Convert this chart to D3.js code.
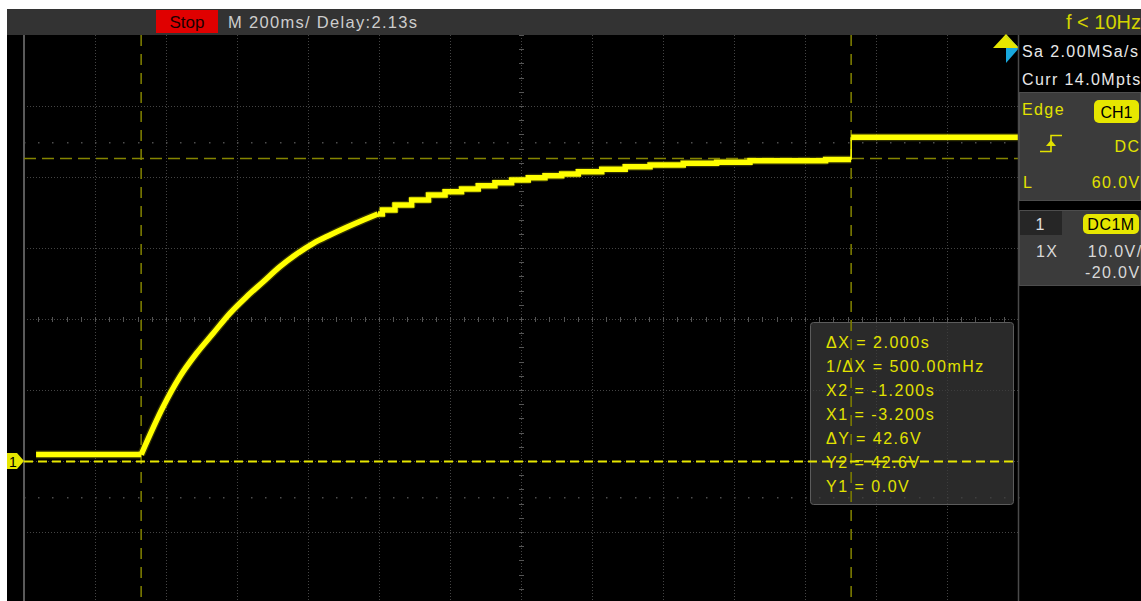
<!DOCTYPE html>
<html>
<head>
<meta charset="utf-8">
<script src="https://cdn.jsdelivr.net/npm/d3@7"></script>
<style>
  html, body { margin: 0; padding: 0; background: #ffffff; }
  svg { display: block; }
  text { font-family: "Liberation Sans", Arial, sans-serif; }
</style>
</head>
<body>
<svg id="scope" width="1141" height="601"></svg>
<script>
// ---- Acquisition settings ----
const timePerDiv = 0.2;      // s/div
const centerTime = -2.13;    // s at screen centre
const voltsPerDiv = 10;      // V/div
const centerVolts = 20;      // V at screen centre (offset -20 V)
const hDivs = 14, vDivs = 8;

// ---- CH1 trace: flat, RC charge, settle, then step ----
const flatT  = [-3.496, -3.200];
const flatV  = [0.9, 0.9];
const riseT  = [-3.200, -3.138, -3.091, -3.044, -2.997, -2.950, -2.903, -2.856, -2.809, -2.762,
                -2.715, -2.668, -2.621, -2.574, -2.533];
const riseV  = [0.9, 7.65, 11.87, 15.17, 17.99, 20.80, 23.14, 25.25, 27.37, 29.15,
                30.66, 31.83, 32.92, 33.94, 34.79];
const settleT = [-2.533, -2.508, -2.462, -2.414, -2.367, -2.321, -2.274, -2.227, -2.180, -2.133,
                 -2.086, -2.039, -1.992, -1.945, -1.860, -1.813, -1.720, -1.626, -1.532, -1.438,
                 -1.344, -1.200];
const settleV = [34.79, 35.35, 36.06, 36.76, 37.46, 37.93, 38.31, 38.77, 39.20, 39.58,
                 39.90, 40.18, 40.42, 40.75, 41.08, 41.45, 41.69, 41.93, 42.07, 42.30,
                 42.30, 42.45];
const highT = [-1.200, -0.730];
const highV = [45.6, 45.6];

// ---- Cursors ----
const cursorX = [-3.200, -1.200];   // X1, X2
const cursorY = [0.0, 42.6];        // Y1, Y2

// ---- Text ----
const measureLines = ["ΔX = 2.000s", "1/ΔX = 500.00mHz", "X2 = -1.200s", "X1 = -3.200s",
                      "ΔY = 42.6V", "Y2 = 42.6V", "Y1 = 0.0V"];
const statusText = "Stop";
const timebaseText = "M 200ms/  Delay:2.13s";
const freqText = "f < 10Hz";

const svg = d3.select("#scope");
const YEL = "#ffff00", YEL_TXT = "#e2e200";

// Screen geometry
const scrL = 24, scrR = 1018, scrT = 35, scrB = 603;
const x = d3.scaleLinear()
  .domain([centerTime - hDivs / 2 * timePerDiv, centerTime + hDivs / 2 * timePerDiv])
  .range([scrL, scrR]);
const y = d3.scaleLinear()
  .domain([centerVolts - vDivs / 2 * voltsPerDiv, centerVolts + vDivs / 2 * voltsPerDiv])
  .range([scrB, scrT]);

// Backgrounds
svg.append("rect").attr("x", 7).attr("y", 35).attr("width", 1134).attr("height", 566).attr("fill", "#000");
svg.append("rect").attr("x", 7).attr("y", 9).attr("width", 1134).attr("height", 26).attr("fill", "#333333");

// ---- Graticule ----
const grid = svg.append("g");
const gridColor = "#444444";
const xDivTimes = d3.range(1, hDivs).map(k => centerTime + (k - hDivs / 2) * timePerDiv);
const yDivVolts = d3.range(1, vDivs).map(k => centerVolts + (k - vDivs / 2) * voltsPerDiv);
grid.selectAll(".vg").data(xDivTimes).enter().append("line")
  .attr("x1", d => Math.round(x(d)) + 0.5).attr("x2", d => Math.round(x(d)) + 0.5)
  .attr("y1", scrT).attr("y2", 601)
  .attr("stroke", gridColor).attr("stroke-width", 1).attr("stroke-dasharray", "1,2");
grid.selectAll(".hg").data(yDivVolts).enter().append("line")
  .attr("x1", scrL).attr("x2", scrR)
  .attr("y1", d => Math.round(y(d)) + 0.5).attr("y2", d => Math.round(y(d)) + 0.5)
  .attr("stroke", gridColor).attr("stroke-width", 1).attr("stroke-dasharray", "1,2");

// centre axis ticks (5 per division)
const subT = d3.range(0, hDivs * 5 + 1).map(i => x.domain()[0] + i * timePerDiv / 5);
const subV = d3.range(0, vDivs * 5 + 1).map(i => y.domain()[0] + i * voltsPerDiv / 5);
const cy = Math.round(y(centerVolts)), cx = Math.round(x(centerTime));
grid.selectAll(".tx").data(subT).enter().append("line")
  .attr("x1", d => Math.round(x(d)) + 0.5).attr("x2", d => Math.round(x(d)) + 0.5)
  .attr("y1", cy - 2).attr("y2", cy + 3).attr("stroke", "#555").attr("stroke-width", 1);
grid.selectAll(".ty").data(subV).enter().append("line")
  .attr("y1", d => Math.round(y(d)) + 0.5).attr("y2", d => Math.round(y(d)) + 0.5)
  .attr("x1", cx - 2).attr("x2", cx + 3).attr("stroke", "#555").attr("stroke-width", 1);
// dotted rows at ±2.5 div
[centerVolts + 2.5 * voltsPerDiv, centerVolts - 2.5 * voltsPerDiv].forEach(v => {
  grid.selectAll(null).data(subT).enter().append("rect")
    .attr("x", d => Math.round(x(d))).attr("y", Math.round(y(v)))
    .attr("width", 1.5).attr("height", 1.5).attr("fill", "#4d4d4d");
});
// left border of screen
svg.append("line").attr("x1", scrL).attr("x2", scrL).attr("y1", scrT).attr("y2", 601)
  .attr("stroke", "#5a5a5a").attr("stroke-width", 2);

// ---- Cursor readout box ----
svg.append("rect").attr("x", 810.5).attr("y", 322.5).attr("width", 203).attr("height", 182)
  .attr("rx", 3).attr("fill", "#3a3a3a").attr("fill-opacity", 0.72)
  .attr("stroke", "#5c5c5c").attr("stroke-width", 1);

// ---- Cursors ----
svg.selectAll(".cx").data(cursorX).enter().append("line")
  .attr("x1", d => x(d)).attr("x2", d => x(d)).attr("y1", scrT).attr("y2", 601)
  .attr("stroke", "#7a7a00").attr("stroke-width", 1.6).attr("stroke-dasharray", "11,8");
svg.append("line").attr("x1", scrL).attr("x2", scrR)
  .attr("y1", y(cursorY[1])).attr("y2", y(cursorY[1]))
  .attr("stroke", "#858500").attr("stroke-width", 1.6).attr("stroke-dasharray", "12,6");
svg.append("line").attr("x1", scrL).attr("x2", scrR)
  .attr("y1", y(cursorY[0]) + 0.5).attr("y2", y(cursorY[0]) + 0.5)
  .attr("stroke", "#e6e600").attr("stroke-width", 2).attr("stroke-dasharray", "9,5");

svg.append("g").selectAll("text").data(measureLines).enter().append("text")
  .attr("x", 826).attr("y", (d, i) => 348 + i * 24)
  .attr("font-size", 16).attr("letter-spacing", 1.5).attr("fill", YEL_TXT).text(d => d);

// ---- Trace ----
const pts = (ts, vs) => ts.map((t, i) => [t, vs[i]]);
const lin = d3.line().x(d => x(d[0])).y(d => y(d[1]));
const segments = [
  { d: pts(flatT, flatV), c: d3.curveLinear },
  { d: pts(riseT, riseV), c: d3.curveMonotoneX },
  { d: pts(settleT, settleV), c: d3.curveStep },
  { d: pts(highT, highV), c: d3.curveLinear }
];
const tr = svg.append("g");
segments.forEach(s => {
  tr.append("path").attr("d", lin.curve(s.c)(s.d)).attr("fill", "none")
    .attr("stroke", "#8c8c00").attr("stroke-width", 8).attr("stroke-opacity", 0.35)
    .attr("stroke-linejoin", "round");
});
segments.forEach(s => {
  tr.append("path").attr("d", lin.curve(s.c)(s.d)).attr("fill", "none")
    .attr("stroke", YEL).attr("stroke-width", 5.5).attr("stroke-linejoin", "miter");
});
// thin vertical edge at the step
tr.append("line").attr("x1", x(highT[0])).attr("x2", x(highT[0]))
  .attr("y1", y(settleV[settleV.length - 1])).attr("y2", y(highV[0]))
  .attr("stroke", YEL).attr("stroke-width", 1.5);

// ---- Channel ground marker ----
const g0 = y(0);
svg.append("path")
  .attr("d", `M7,${g0 - 8} L17,${g0 - 8} L24,${g0} L17,${g0 + 8} L7,${g0 + 8} Z`)
  .attr("fill", "#e6e600");
svg.append("text").attr("x", 9).attr("y", g0 + 5.5).attr("font-size", 14).attr("fill", "#000").text("1");

// ---- Trigger position / level marker ----
svg.append("path").attr("d", "M993,48 L1006,34 L1019,48 Z").attr("fill", "#e6e600");
svg.append("path").attr("d", "M1006,36 L1019,48 L1006,63 Z").attr("fill", "#18a8de");
svg.append("path").attr("d", "M1006,36 L1019,48 L1006,48 Z").attr("fill", "#e6e600");

// ---- Top status bar ----
svg.append("rect").attr("x", 156).attr("y", 10).attr("width", 62).attr("height", 23).attr("fill", "#e00000");
svg.append("text").attr("x", 187).attr("y", 28).attr("text-anchor", "middle")
  .attr("font-size", 17).attr("fill", "#1a0000").text(statusText);
svg.append("text").attr("x", 228).attr("y", 28).attr("font-size", 16.5)
  .attr("textLength", 189).attr("lengthAdjust", "spacing")
  .attr("fill", "#cdcdcd").text(timebaseText);
svg.append("text").attr("x", 1141).attr("y", 29).attr("text-anchor", "end")
  .attr("font-size", 20).attr("fill", "#d4d400").text(freqText);

// ---- Right side panel ----
const panel = svg.append("g");
panel.append("line").attr("x1", 1018.5).attr("x2", 1018.5).attr("y1", 35).attr("y2", 601)
  .attr("stroke", "#4a4a4a").attr("stroke-width", 1.5);
const txt = (tx, ty, s, col, anchor, ls) => panel.append("text")
  .attr("x", tx).attr("y", ty).attr("font-size", 16).attr("fill", col)
  .attr("text-anchor", anchor || "start").attr("letter-spacing", ls === undefined ? 1.4 : ls).text(s);

txt(1022, 57, "Sa 2.00MSa/s", "#e8e8e8");
txt(1022, 85, "Curr 14.0Mpts", "#e8e8e8");

// trigger panel
panel.append("rect").attr("x", 1019.5).attr("y", 92.5).attr("width", 121).attr("height", 108)
  .attr("fill", "#3b3b3b").attr("stroke", "#4d4d4d");
txt(1022, 115, "Edge", YEL_TXT);
panel.append("rect").attr("x", 1094).attr("y", 100).attr("width", 45).attr("height", 23).attr("rx", 5)
  .attr("fill", "#e6e600");
panel.append("text").attr("x", 1116.5).attr("y", 118).attr("text-anchor", "middle")
  .attr("font-size", 16).attr("fill", "#000").text("CH1");
panel.append("path").attr("d", "M1040,151.5 L1051,151.5 L1051,135.5 L1062,135.5")
  .attr("fill", "none").attr("stroke", YEL_TXT).attr("stroke-width", 1.6);
panel.append("path").attr("d", "M1046,146 L1051,140 L1056,146 Z").attr("fill", YEL_TXT);
txt(1140.5, 152, "DC", YEL_TXT, "end");
txt(1023, 188, "L", YEL_TXT);
txt(1140.5, 188, "60.0V", YEL_TXT, "end");

// channel panel
panel.append("rect").attr("x", 1019.5).attr("y", 210.5).attr("width", 121).attr("height", 75)
  .attr("fill", "#3b3b3b").attr("stroke", "#4d4d4d");
panel.append("rect").attr("x", 1020).attr("y", 211).attr("width", 42).attr("height", 24)
  .attr("fill", "#262626");
panel.append("text").attr("x", 1040).attr("y", 230).attr("text-anchor", "middle")
  .attr("font-size", 16).attr("fill", "#e0e0e0").text("1");
panel.append("rect").attr("x", 1083).attr("y", 214).attr("width", 56).attr("height", 20).attr("rx", 5)
  .attr("fill", "#e6e600");
panel.append("text").attr("x", 1111).attr("y", 230).attr("text-anchor", "middle")
  .attr("font-size", 16).attr("letter-spacing", 0.5).attr("fill", "#000").text("DC1M");
txt(1036, 257, "1X", "#d8d8d8");
txt(1142.5, 257, "10.0V/", "#d8d8d8", "end");
txt(1140.5, 278, "-20.0V", "#d8d8d8", "end");
</script>
</body>
</html>
